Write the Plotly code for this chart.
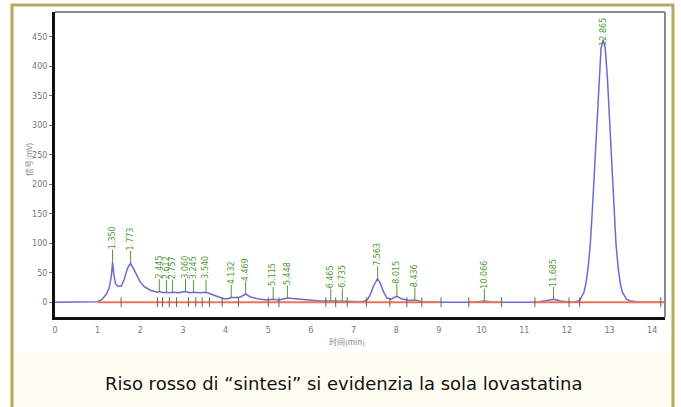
import plotly.graph_objects as go

# ---------------- data ----------------
rt = [0.0, 0.9, 1.0, 1.1, 1.2, 1.27, 1.32, 1.35, 1.38, 1.42, 1.48, 1.55, 1.62, 1.70, 1.77, 1.84,
      1.92, 2.00, 2.10, 2.25, 2.40, 2.45, 2.55, 2.61, 2.70, 2.76, 2.90, 3.06, 3.15, 3.25, 3.40,
      3.54, 3.65, 3.80, 3.95, 4.05, 4.13, 4.25, 4.35, 4.47, 4.58, 4.75, 4.95, 5.11, 5.25, 5.45,
      5.60, 5.80, 6.00, 6.20, 6.47, 6.73, 6.95, 7.20, 7.32, 7.40, 7.47, 7.53, 7.56, 7.62, 7.70,
      7.78, 7.88, 7.95, 8.02, 8.12, 8.30, 8.44, 8.60, 9.00, 9.80, 10.07, 10.30, 11.30, 11.50,
      11.69, 11.85, 12.10, 12.20, 12.30, 12.40, 12.45, 12.50, 12.55, 12.60, 12.65, 12.70, 12.75,
      12.80, 12.85, 12.90, 12.95, 13.00, 13.05, 13.10, 13.15, 13.20, 13.25, 13.30, 13.40, 13.50,
      13.70, 14.30]
signal = [0, 0, 1, 5, 13, 24, 44, 68, 46, 31, 27, 27, 38, 58, 66, 57,
          44, 34, 26, 20, 17, 18, 16, 17, 16, 17, 16, 18, 16, 17, 16,
          17, 14, 10, 6, 6, 8, 8, 9, 14, 9, 6, 4, 5, 4, 7,
          6, 5, 4, 2, 2, 2, 1, 1, 4, 14, 28, 38, 40, 33, 18,
          7, 5, 8, 10, 6, 3, 4, 1, 0, 0, 2, 0, 0, 2,
          5, 2, 0, 1, 3, 17, 33, 60, 100, 160, 230, 310, 380,
          430, 445, 430, 380, 310, 230, 160, 100, 60, 33, 17, 5, 2,
          0.5, 0]

peak_rt = [1.350, 1.773, 2.445, 2.612, 2.757, 3.060, 3.245, 3.540, 4.132, 4.469, 5.115, 5.448,
           6.465, 6.735, 7.563, 8.015, 8.436, 10.066, 11.685, 12.865]
peak_height = [68, 66, 18, 17, 17, 18, 17, 17, 8, 14, 5, 7, 2, 2, 40, 10, 4, 2, 5, 445]
peak_labels = ["1.350", "1.773", "2.445", "2.612", "2.757", "3.060", "3.245", "3.540", "4.132",
               "4.469", "5.115", "5.448", "6.465", "6.735", "7.563", "8.015", "8.436", "10.066",
               "11.685", "12.865"]

baseline_x = [1.0, 9.0, None, 9.7, 10.47, None, 11.2, 14.3]
baseline_y = [0, 0, None, 0, 0, None, 0, 0]

tick_marks = [1.55, 2.40, 2.52, 2.68, 2.85, 3.13, 3.30, 3.45, 3.62, 3.92, 4.30, 5.00, 5.25,
              6.35, 6.58, 6.85, 7.30, 7.85, 8.25, 8.60, 9.05, 9.70, 10.47, 11.25, 12.05, 12.30, 14.20]

x_ticks = list(range(0, 15))
y_ticks = list(range(0, 451, 50))

x_title = "时间(min)"
y_title = "信号(mV)"
caption = "Riso rosso di “sintesi” si evidenzia la sola lovastatina"

# ---------------- geometry helpers ----------------
W, H = 681, 407
L, R, T, B = 55, 16, 12, 90
PW, PH = W - L - R, H - T - B


def px_x(p):
    return (p - L) / PW


def px_y(p):
    return (H - B - p) / PH


LABEL_GREEN = "#4f9a34"

fig = go.Figure()

fig.add_trace(go.Scatter(x=rt, y=signal, mode="lines",
                         line=dict(color="#6b6bd2", width=1.5), hoverinfo="skip"))
fig.add_trace(go.Scatter(x=baseline_x, y=baseline_y, mode="lines",
                         line=dict(color="#ee7458", width=1.8), hoverinfo="skip"))
fig.add_trace(go.Scatter(x=tick_marks, y=[0] * len(tick_marks), mode="markers",
                         marker=dict(symbol="line-ns", size=7,
                                     line=dict(color="#5a6a5a", width=1)),
                         hoverinfo="skip"))

# peak labels
for xv, yv, lab in zip(peak_rt, peak_height, peak_labels):
    tlen = len(lab) * 4.6
    gap = 13
    ytop_px = PH * (1 - (yv + 25) / (492 + 25))
    if ytop_px - gap - tlen < 4:
        # tallest peak: label sits on the apex, just under the frame top
        fig.add_annotation(x=xv, y=yv, text=lab, textangle=-90, showarrow=False,
                           yanchor="middle", yshift=tlen / 2 - 6,
                           font=dict(family="DejaVu Sans", size=8, color=LABEL_GREEN))
        continue
    fig.add_annotation(x=xv, y=yv, text=lab, textangle=-90, showarrow=True,
                       arrowhead=0, arrowwidth=1, arrowcolor=LABEL_GREEN,
                       ax=0, ay=-(gap + tlen / 2), borderpad=0,
                       font=dict(family="DejaVu Sans", size=8, color=LABEL_GREEN))

# axis titles
fig.add_annotation(xref="paper", yref="paper", x=px_x(347), y=px_y(341), text=x_title,
                   xanchor="center", yanchor="middle", showarrow=False,
                   font=dict(family="Noto Sans CJK SC", size=8, color="#888888"))
fig.add_annotation(xref="paper", yref="paper", x=px_x(28), y=px_y(160), text=y_title,
                   xanchor="center", yanchor="middle", textangle=-90, showarrow=False,
                   font=dict(family="Noto Sans CJK SC", size=8, color="#888888"))

# caption
fig.add_annotation(xref="paper", yref="paper", x=px_x(343), y=px_y(383), text=caption,
                   xanchor="center", yanchor="middle", showarrow=False,
                   font=dict(family="DejaVu Sans", size=18, color="#111111"))

shapes = [
    dict(type="rect", xref="paper", yref="paper", x0=px_x(13), x1=px_x(672),
         y0=px_y(352), y1=px_y(420), fillcolor="#fffdf2", line=dict(width=0), layer="below"),
    dict(type="line", xref="paper", yref="paper", x0=0, x1=1, y0=1, y1=1,
         line=dict(color="#8a8a8a", width=2)),
    dict(type="line", xref="paper", yref="paper", x0=1, x1=1, y0=0, y1=1,
         line=dict(color="#8a8a8a", width=2)),
    dict(type="rect", xref="paper", yref="paper", x0=px_x(12), x1=px_x(673),
         y0=px_y(430), y1=px_y(5), line=dict(color="#b8a85e", width=3)),
]

fig.update_layout(
    width=W, height=H,
    margin=dict(l=L, r=R, t=T, b=B),
    paper_bgcolor="white", plot_bgcolor="white",
    showlegend=False,
    shapes=shapes,
    xaxis=dict(range=[0, 14.3], tickvals=x_ticks, ticktext=[str(v) for v in x_ticks],
               showgrid=False, zeroline=False, showline=True, linecolor="#111111", linewidth=3,
               ticks="", ticklabelstandoff=3,
               tickfont=dict(family="DejaVu Sans", size=8, color="#777777")),
    yaxis=dict(range=[-25, 492], tickvals=y_ticks, ticktext=[str(v) for v in y_ticks],
               showgrid=False, zeroline=False, showline=True, linecolor="#111111", linewidth=3,
               ticks="outside", ticklen=3, tickcolor="#777777",
               tickfont=dict(family="DejaVu Sans", size=8, color="#777777")),
)

fig.write_html("out.html", config={"displayModeBar": False},
               post_script="document.body.style.margin='0';document.body.style.padding='0';"
                           "document.body.style.overflow='hidden';")
